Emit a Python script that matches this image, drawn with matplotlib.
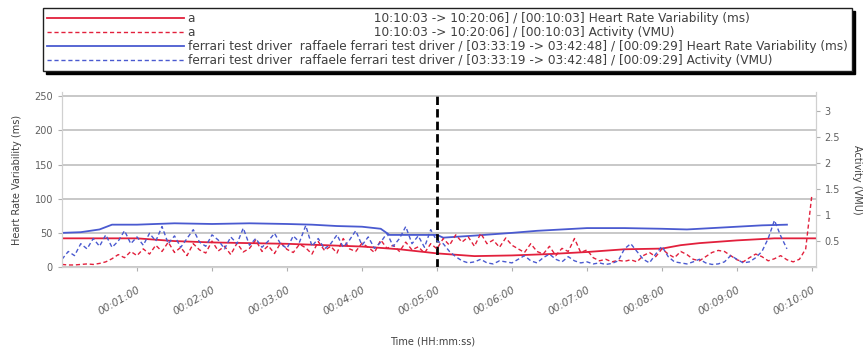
import matplotlib
matplotlib.use('Agg')
import matplotlib.pyplot as plt
from matplotlib.ticker import FuncFormatter

plt.rcParams['font.family'] = ['DejaVu Sans']

# 活動量 (VMU)，每 5 秒一筆
act_step = 5
red_activity = [
    0.05, 0.04, 0.04, 0.05, 0.06, 0.05, 0.07, 0.10, 0.16, 0.24, 0.18, 0.30, 0.22,
    0.35, 0.25, 0.42, 0.30, 0.48, 0.28, 0.38, 0.22, 0.45, 0.33,
    0.27, 0.50, 0.31, 0.40, 0.24, 0.46, 0.29, 0.36, 0.52, 0.30,
    0.41, 0.26, 0.47, 0.34, 0.28, 0.44, 0.37, 0.25, 0.49, 0.32,
    0.40, 0.27, 0.55, 0.35, 0.30, 0.46, 0.38, 0.28, 0.52, 0.36,
    0.42, 0.30, 0.48, 0.33, 0.39, 0.27, 0.45, 0.35,
    0.55, 0.42, 0.62, 0.48, 0.58, 0.40, 0.65, 0.45, 0.52, 0.38, 0.56, 0.42,
    0.35, 0.28, 0.45, 0.30, 0.25, 0.40, 0.22, 0.36, 0.30, 0.55, 0.28, 0.33,
    0.18, 0.12, 0.15, 0.10, 0.13, 0.11, 0.14, 0.10,
    0.22, 0.28, 0.20, 0.35, 0.25, 0.18, 0.30, 0.24, 0.15, 0.12, 0.20, 0.28, 0.32, 0.30,
    0.22, 0.14, 0.10, 0.18, 0.25, 0.20, 0.12, 0.16, 0.22, 0.14, 0.10, 0.15, 0.35, 1.40,
]
blue_activity = [
    0.15, 0.30, 0.22, 0.45, 0.35, 0.55, 0.40, 0.62, 0.38, 0.50, 0.70, 0.45, 0.58,
    0.42, 0.65, 0.50, 0.78, 0.45, 0.60, 0.38, 0.55, 0.72, 0.48,
    0.40, 0.62, 0.52, 0.35, 0.58, 0.45, 0.75, 0.42, 0.55, 0.38,
    0.50, 0.65, 0.44, 0.36, 0.60, 0.48, 0.80, 0.40, 0.55, 0.35,
    0.45, 0.62, 0.38, 0.52, 0.70, 0.42, 0.58, 0.36, 0.48, 0.65,
    0.40, 0.55, 0.78, 0.45, 0.60, 0.38, 0.72, 0.50,
    0.45, 0.30, 0.20, 0.12, 0.08, 0.10, 0.15, 0.08, 0.06, 0.12, 0.10, 0.08,
    0.15, 0.22, 0.12, 0.08, 0.18, 0.25, 0.15, 0.10, 0.20, 0.12, 0.08, 0.10,
    0.06, 0.08, 0.05, 0.07, 0.12, 0.35, 0.45, 0.30, 0.15, 0.08, 0.25, 0.40,
    0.20, 0.10, 0.08, 0.06, 0.10, 0.15, 0.08, 0.05, 0.06, 0.10,
    0.22, 0.15, 0.08, 0.10, 0.18, 0.30, 0.55, 0.90, 0.60, 0.35,
]

# 心率變異 (ms)：時間點 (秒) 與數值
red_hrv_t = [0, 60, 75, 90, 120, 180, 240, 270, 300, 330, 360, 390, 420, 450, 480, 495, 510, 540, 570, 603]
red_hrv = [42, 42, 40, 38, 36, 34, 30, 26, 20, 16, 17, 19, 22, 26, 27, 32, 35, 39, 42, 42]
blue_hrv_t = [0, 15, 30, 40, 60, 90, 120, 150, 180, 200, 220, 240, 255, 262, 300, 305, 330, 360,
              380, 400, 420, 450, 480, 500, 520, 540, 560, 580]
blue_hrv = [50, 51, 55, 62, 62, 64, 63, 64, 63, 62, 60, 59, 56, 47, 47, 43, 46, 50,
            53, 55, 57, 57, 56, 55, 57, 59, 61, 62]

marker_time = 300
duration = 603

labels = [
    'a' + ' ' * 46 + '10:10:03 -> 10:20:06] / [00:10:03] Heart Rate Variability (ms)',
    'a' + ' ' * 46 + '10:10:03 -> 10:20:06] / [00:10:03] Activity (VMU)',
    'ferrari test driver  raffaele ferrari test driver / [03:33:19 -> 03:42:48] / [00:09:29] Heart Rate Variability (ms)',
    'ferrari test driver  raffaele ferrari test driver / [03:33:19 -> 03:42:48] / [00:09:29] Activity (VMU)',
]

RED = '#e2203c'
BLUE = '#4a5ad0'
GREY = '#606060'


def hms(x, pos=None):
    s = int(round(x))
    return '%02d:%02d:%02d' % (s // 3600, (s % 3600) // 60, s % 60)


def draw_chart():
    fig = plt.figure(figsize=(8.65, 3.5), dpi=100)
    ax = fig.add_axes([0.0717, 0.237, 0.8713, 0.5])
    ax2 = ax.twinx()

    red_t = [i * act_step for i in range(len(red_activity))]
    blue_t = [i * act_step for i in range(len(blue_activity))]

    # 左軸：心率變異
    l1, = ax.plot(red_hrv_t, red_hrv, color=RED, lw=1.3, zorder=4)
    l3, = ax.plot(blue_hrv_t, blue_hrv, color=BLUE, lw=1.3, zorder=4)
    # 右軸：活動量
    l2, = ax2.plot(red_t, red_activity, color=RED, lw=1.0, ls=(0, (3, 2)))
    l4, = ax2.plot(blue_t, blue_activity, color=BLUE, lw=1.0, ls=(0, (3, 2)))

    ax.axvline(marker_time, color='black', lw=2, ls=(0, (3, 1.5)), zorder=6)

    ax.set_xlim(0, duration)
    ax.set_ylim(0, 256)
    ax2.set_ylim(0, 3.37)
    ax.set_yticks([0, 50, 100, 150, 200, 250])
    ax2.set_yticks([0.5, 1, 1.5, 2, 2.5, 3])
    ax2.set_yticklabels(['0.5', '1', '1.5', '2', '2.5', '3'])
    ax.set_xticks(list(range(60, 601, 60)))
    ax.xaxis.set_major_formatter(FuncFormatter(hms))

    ax.yaxis.grid(True, color='#c4c4c4', lw=1.3)
    ax.set_axisbelow(True)

    for a in (ax, ax2):
        a.spines['top'].set_visible(False)
        for s in ('left', 'right', 'bottom'):
            a.spines[s].set_color('#d0d0d0')
        a.tick_params(colors='#b0b0b0', labelcolor=GREY, labelsize=7, length=3)
    ax.tick_params(axis='x', pad=10, labelsize=7.5)

    for lab in ax.get_xticklabels():
        lab.set_rotation(30)
        lab.set_ha('right')
        lab.set_rotation_mode('anchor')
        lab.set_fontstyle('italic')

    ax.set_ylabel('Heart Rate Variability (ms)', fontsize=7, color='#404040', labelpad=9)
    ax2.set_ylabel('Activity (VMU)', fontsize=7, color='#404040', rotation=270, labelpad=16)
    fig.text(0.5, 1 - 342 / 350, 'Time (HH:mm:ss)', ha='center', va='center',
             fontsize=7, color='#404040')

    leg = fig.legend([l1, l2, l3, l4], labels, loc='upper left',
                     bbox_to_anchor=(43 / 865, 1 - 8 / 350), borderaxespad=0,
                     fontsize=8.7, handlelength=11.3, handletextpad=0.35,
                     labelspacing=0.08, fancybox=False, edgecolor='#202020',
                     framealpha=1, borderpad=0.35,
                     shadow={'color': 'black', 'alpha': 1})
    leg.get_frame().set_linewidth(1.0)
    for t in leg.get_texts():
        t.set_color('#404040')

    fig.savefig('out.png', dpi=100)


if __name__ == '__main__':
    draw_chart()
